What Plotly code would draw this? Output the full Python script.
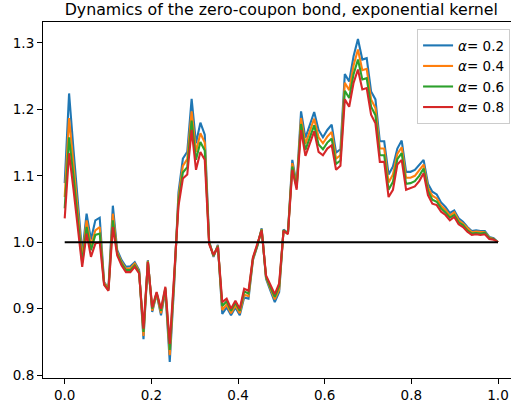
import plotly.graph_objects as go

# time grid: 100 equally spaced observation dates on [0, 1]
t = [i / 99 for i in range(100)]

alpha_labels = ["0.2", "0.4", "0.6", "0.8"]
colors = ["#1f77b4", "#ff7f0e", "#2ca02c", "#d62728"]

p_02 = [1.089, 1.224, 1.140, 1.060, 0.983, 1.043, 1.004, 1.033, 1.037, 0.940,
        0.931, 1.055, 0.988, 0.973, 0.963, 0.964, 0.970, 0.958, 0.854, 0.973,
        0.895, 0.922, 0.890, 0.927, 0.820, 0.935, 1.075, 1.126, 1.136, 1.216,
        1.149, 1.180, 1.162, 1.002, 0.978, 0.996, 0.892, 0.902, 0.890, 0.902,
        0.890, 0.917, 0.915, 0.973, 0.994, 1.021, 0.945, 0.927, 0.910, 0.925,
        1.019, 1.014, 1.124, 1.087, 1.197, 1.157, 1.177, 1.196, 1.169, 1.158,
        1.169, 1.177, 1.135, 1.140, 1.253, 1.242, 1.280, 1.306, 1.275, 1.277,
        1.227, 1.215, 1.152, 1.152, 1.102, 1.114, 1.141, 1.153, 1.106, 1.106,
        1.109, 1.117, 1.124, 1.088, 1.076, 1.072, 1.060, 1.053, 1.044, 1.048,
        1.036, 1.031, 1.023, 1.017, 1.018, 1.017, 1.017, 1.008, 1.006, 1.000]

p_04 = [1.068, 1.187, 1.118, 1.046, 0.975, 1.033, 0.995, 1.018, 1.023, 0.939,
        0.930, 1.043, 0.985, 0.970, 0.960, 0.961, 0.968, 0.956, 0.859, 0.972,
        0.897, 0.923, 0.893, 0.929, 0.830, 0.940, 1.068, 1.115, 1.125, 1.197,
        1.136, 1.164, 1.150, 1.000, 0.979, 0.995, 0.898, 0.906, 0.893, 0.905,
        0.893, 0.921, 0.919, 0.974, 0.995, 1.020, 0.947, 0.930, 0.914, 0.929,
        1.018, 1.013, 1.119, 1.084, 1.187, 1.148, 1.167, 1.186, 1.158, 1.149,
        1.159, 1.166, 1.126, 1.131, 1.240, 1.229, 1.266, 1.290, 1.259, 1.261,
        1.215, 1.202, 1.141, 1.141, 1.090, 1.102, 1.133, 1.143, 1.097, 1.097,
        1.100, 1.108, 1.117, 1.082, 1.070, 1.066, 1.055, 1.049, 1.040, 1.045,
        1.033, 1.028, 1.021, 1.015, 1.016, 1.015, 1.015, 1.007, 1.005, 1.000]

p_06 = [1.051, 1.158, 1.099, 1.033, 0.969, 1.023, 0.988, 1.011, 1.013, 0.937,
        0.928, 1.033, 0.983, 0.968, 0.958, 0.958, 0.965, 0.955, 0.865, 0.971,
        0.900, 0.924, 0.897, 0.931, 0.838, 0.945, 1.062, 1.105, 1.113, 1.183,
        1.124, 1.151, 1.138, 0.999, 0.980, 0.994, 0.904, 0.911, 0.897, 0.909,
        0.897, 0.926, 0.923, 0.976, 0.995, 1.019, 0.948, 0.932, 0.918, 0.934,
        1.018, 1.013, 1.114, 1.082, 1.178, 1.139, 1.158, 1.176, 1.147, 1.140,
        1.150, 1.156, 1.118, 1.123, 1.228, 1.217, 1.253, 1.275, 1.245, 1.247,
        1.204, 1.191, 1.131, 1.131, 1.079, 1.091, 1.125, 1.134, 1.088, 1.089,
        1.092, 1.100, 1.111, 1.077, 1.064, 1.061, 1.051, 1.045, 1.037, 1.041,
        1.030, 1.026, 1.018, 1.013, 1.014, 1.013, 1.014, 1.006, 1.005, 1.000]

p_08 = [1.036, 1.134, 1.080, 1.020, 0.963, 1.013, 0.978, 0.998, 1.000, 0.936,
        0.927, 1.023, 0.980, 0.965, 0.955, 0.955, 0.963, 0.953, 0.870, 0.970,
        0.902, 0.925, 0.900, 0.933, 0.847, 0.950, 1.055, 1.096, 1.102, 1.169,
        1.109, 1.136, 1.124, 0.997, 0.981, 0.993, 0.910, 0.915, 0.900, 0.912,
        0.900, 0.930, 0.927, 0.977, 0.996, 1.018, 0.950, 0.935, 0.922, 0.938,
        1.017, 1.012, 1.109, 1.079, 1.169, 1.130, 1.149, 1.167, 1.136, 1.131,
        1.141, 1.146, 1.109, 1.115, 1.215, 1.204, 1.240, 1.260, 1.230, 1.232,
        1.192, 1.179, 1.121, 1.121, 1.068, 1.079, 1.117, 1.124, 1.079, 1.081,
        1.084, 1.092, 1.104, 1.071, 1.058, 1.056, 1.046, 1.041, 1.033, 1.038,
        1.027, 1.023, 1.016, 1.011, 1.012, 1.011, 1.012, 1.005, 1.004, 1.000]

ref_x = [0.0, 1.0]
ref_y = [1.0, 1.0]

series = [p_02, p_04, p_06, p_08]

FONT = "DejaVu Sans"

fig = go.Figure()
for lab, col, ys in zip(alpha_labels, colors, series):
    fig.add_trace(go.Scatter(
        x=t, y=ys, mode="lines", name="<i>α</i>= " + lab,
        line=dict(color=col, width=2.1),
    ))
fig.add_trace(go.Scatter(
    x=ref_x, y=ref_y, mode="lines", showlegend=False,
    line=dict(color="black", width=2.1),
))

axis_common = dict(
    showgrid=False, zeroline=False, showline=True, linecolor="black",
    linewidth=1.1, ticks="outside", ticklen=5, tickwidth=1.1,
    tickcolor="black", tickfont=dict(family=FONT, size=13.5, color="black"),
)

fig.update_layout(
    width=511, height=404,
    margin=dict(l=43, r=0, t=22, b=26, pad=0),
    paper_bgcolor="white", plot_bgcolor="white",
    title=dict(
        text="Dynamics of the zero-coupon bond, exponential kernel",
        x=0.5505, xref="container", xanchor="center",
        y=0.99, yref="container", yanchor="top",
        font=dict(family=FONT, size=15.8, color="black"),
    ),
    xaxis=dict(range=[-0.0501, 1.030], tickvals=[0, 0.2, 0.4, 0.6, 0.8, 1.0],
               tickformat=".1f", mirror=True, **axis_common),
    yaxis=dict(range=[0.7957, 1.3315], tickvals=[0.8, 0.9, 1.0, 1.1, 1.2, 1.3],
               tickformat=".1f", **axis_common),
    legend=dict(
        x=0.998, y=0.98, xanchor="right", yanchor="top",
        bgcolor="rgba(255,255,255,0.8)", bordercolor="#cccccc", borderwidth=1,
        font=dict(family=FONT, size=13.5, color="black"),
        itemwidth=30, tracegroupgap=0,
    ),
    showlegend=True,
)

fig.write_html("out.html", config={"displayModeBar": False},
               post_script="document.body.style.margin='0px';")
